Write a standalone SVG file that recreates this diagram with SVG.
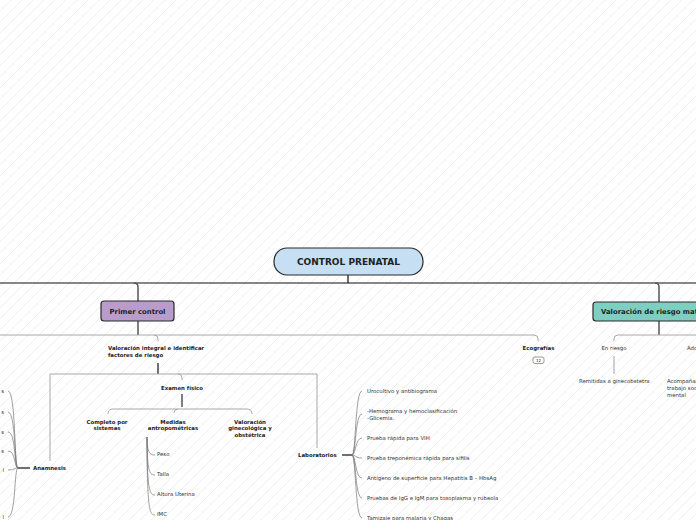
<svg xmlns="http://www.w3.org/2000/svg" width="696" height="520" viewBox="0 0 696 520">
<defs>
<pattern id="hatch" patternUnits="userSpaceOnUse" width="11" height="11">
<path d="M-1,1 L1,-1 M0,11 L11,0 M10,12 L12,10" stroke="#efefef" stroke-width="1"/>
</pattern>
<linearGradient id="fade" x1="0" y1="0" x2="0" y2="1">
<stop offset="0" stop-color="#333"/>
<stop offset="1" stop-color="#aaa"/>
</linearGradient>
<style>
text{font-family:"DejaVu Sans","Liberation Sans",sans-serif;fill:#222}
.b{font-weight:bold;font-size:5.4px}
.r{font-size:5.4px;fill:#333}
.c{text-anchor:middle}
.node{stroke:#2a2a2a;stroke-width:1.2}
.blk{fill:none;stroke:#111;stroke-width:1.2}
.dk{fill:none;stroke:#555;stroke-width:1.5}
.gr{fill:none;stroke:#a8a8a8;stroke-width:1}
.cv{fill:none;stroke:#777;stroke-width:0.7}
</style>
</defs>
<rect width="696" height="520" fill="#ffffff"/>
<rect width="696" height="520" fill="url(#hatch)"/>

<g id="connectors">
<path class="blk" d="M348,275 V283 M0,283 H696"/>
<path class="dk" d="M134,283 Q138,283 138,287 V301"/>
<path class="dk" d="M655,283 Q659,283 659,287 V302"/>
<path class="dk" d="M138,321 V335"/>
<path class="gr" d="M0,335 H534 Q538,335 538,339 V341"/>
<path class="gr" d="M154,335 Q158,335 158,339 V341"/>
<path class="blk" d="M158,363 V374"/>
<path class="gr" d="M50,461 V374 H317 V448"/>
<path class="gr" d="M178,374 Q182,374 182,378 V380"/>
<path class="dk" stroke-width="2" d="M182,394 V407"/>
<path class="gr" d="M108,414 Q108,409 113,409 H247 Q252,409 252,414 M174,413 Q174,409 178,409"/>
<path fill="none" stroke="url(#fade)" stroke-width="1.3" d="M147,433 V519"/>
<path class="cv" d="M147,437 C147,453 150,455 155,455"/>
<path class="cv" d="M147,437 C147,473 150,475 155,475"/>
<path class="cv" d="M147,437 C147,493 150,495 155,495"/>
<path class="cv" d="M147,437 C147,513 150,515 155,515"/>
<path class="blk" stroke-width="1.6" d="M18,468 H30"/>
<path class="cv" d="M18,468 C14,468 16,391 8,391"/>
<path class="cv" d="M18,468 C14,468 16,412 8,412"/>
<path class="cv" d="M18,468 C14,468 16,432 8,432"/>
<path class="cv" d="M18,468 C14,468 16,451 8,451"/>
<path class="cv" d="M18,468 C14,468 14,470 8,470"/>
<path class="cv" d="M18,468 C14,468 16,517 8,517"/>
<path class="blk" stroke-width="1.6" d="M342,455 H352"/>
<path class="cv" d="M352,455 C356,455 355,391 362,391"/>
<path class="cv" d="M352,455 C356,455 355,414 362,414"/>
<path class="cv" d="M352,455 C356,455 355,438 362,438"/>
<path class="cv" d="M352,455 C356,455 355,458 362,458"/>
<path class="cv" d="M352,455 C356,455 355,478 362,478"/>
<path class="cv" d="M352,455 C356,455 355,498 362,498"/>
<path class="cv" d="M352,455 C356,455 355,518 362,518"/>
<path class="dk" d="M659,321 V335"/>
<path class="gr" d="M696,335 H618 Q614,335 614,339 V341"/>
<path fill="none" stroke="#c0c0c0" stroke-width="1.5" d="M614,356 V374"/>
</g>

<g id="root">
<rect class="node" x="274" y="248" width="149" height="27" rx="13" fill="#c6dff2"/>
<text x="348.5" y="265" class="c" font-weight="bold" font-size="9">CONTROL PRENATAL</text>
</g>
<g id="primer-control">
<rect class="node" x="101" y="301" width="73" height="20" rx="3" fill="#b99bcc"/>
<text x="137.5" y="313.5" class="c" font-weight="bold" font-size="6.9">Primer control</text>
</g>
<g id="valoracion-riesgo">
<rect class="node" x="593" y="302" width="130" height="19" rx="3" fill="#7ecfc1"/>
<text x="601" y="314" font-weight="bold" font-size="6.9">Valoración de riesgo materno</text>
</g>
<g id="valoracion-integral">
<text x="108" y="350" class="b">Valoración integral e identificar</text>
<text x="108" y="357" class="b">factores de riesgo</text>
</g>
<g id="ecografias">
<text x="538.5" y="350" class="b c">Ecografías</text>
<rect x="533" y="357" width="11" height="6.5" rx="2" fill="#fff" stroke="#555" stroke-width="0.6"/>
<text x="538.5" y="362" class="c" font-size="4">12</text>
</g>
<g id="examen-fisico"><text x="182" y="390" class="b c">Examen físico</text></g>
<g id="completo"><text x="107" y="424" class="b c">Completo por</text><text x="107" y="430" class="b c">sistemas</text></g>
<g id="medidas"><text x="173" y="424" class="b c">Medidas</text><text x="173" y="430" class="b c">antropométricas</text></g>
<g id="valoracion-gineco"><text x="250" y="423.5" class="b c">Valoración</text><text x="250" y="430" class="b c">ginecológica y</text><text x="250" y="436.5" class="b c">obstétrica</text></g>
<g id="peso"><text x="157" y="456" class="r">Peso</text></g>
<g id="talla"><text x="157" y="476" class="r">Talla</text></g>
<g id="altura"><text x="157" y="496" class="r">Altura Uterina</text></g>
<g id="imc"><text x="157" y="516" class="r">IMC</text></g>
<g id="anamnesis"><text x="33" y="470" class="b">Anamnesis</text></g>
<g id="anamnesis-items">
<text x="4" y="393" class="r" text-anchor="end">s</text>
<text x="4" y="414" class="r" text-anchor="end">s</text>
<text x="4" y="434" class="r" text-anchor="end">s</text>
<text x="4" y="453" class="r" text-anchor="end">s</text>
<text x="4" y="472" class="r" text-anchor="end">l</text>
<text x="4" y="519" class="r" text-anchor="end">l</text>
</g>
<g id="laboratorios"><text x="298" y="457" class="b">Laboratorios</text></g>
<g id="lab-items">
<text x="367" y="393" class="r">Urocultivo y antibiograma</text>
<text x="367" y="413" class="r">-Hemograma y hemoclasificación</text>
<text x="367" y="420" class="r">-Glicemia.</text>
<text x="367" y="440" class="r">Prueba rápida para VIH</text>
<text x="367" y="460" class="r">Prueba treponémica rápida para sífilis</text>
<text x="367" y="480" class="r">Antígeno de superficie para Hepatitis B – HbsAg</text>
<text x="367" y="500" class="r">Pruebas de IgG e IgM para toxoplasma y rubeola</text>
<text x="367" y="520" class="r">Tamizaje para malaria y Chagas</text>
</g>
<g id="en-riesgo"><text x="614" y="350" class="r c">En riesgo</text></g>
<g id="remitidas"><text x="579" y="383" class="r">Remitidas a ginecobstetra</text></g>
<g id="adolescentes"><text x="687" y="350" class="r">Adolescentes</text></g>
<g id="acompanamiento">
<text x="667" y="383" class="r">Acompañamiento por</text>
<text x="667" y="390" class="r">trabajo social y salud</text>
<text x="667" y="397" class="r">mental</text>
</g>
</svg>
